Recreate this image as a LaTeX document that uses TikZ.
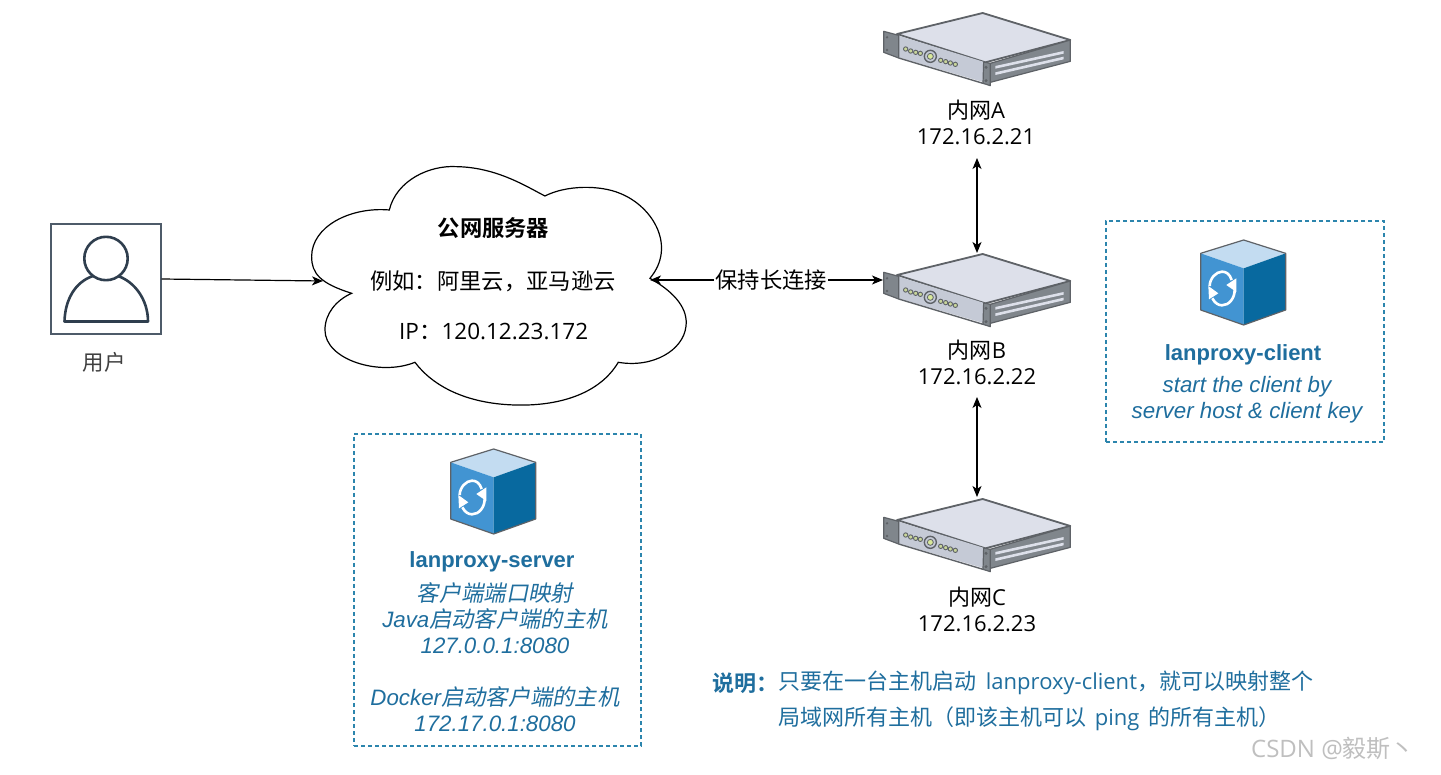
\documentclass[tikz,border=0pt]{standalone}
\usepackage{fontspec}
\usetikzlibrary{arrows.meta}
\setmainfont{Open Sans}
\newfontfamily\cj{Noto Sans CJK SC}
\newfontfamily\cjb{Noto Sans CJK SC Bold}
\newfontfamily\cji[FakeSlant=0.2]{Noto Sans CJK SC}
\newfontfamily\lib{Liberation Sans}
\definecolor{teal}{HTML}{1F6E9E}
\definecolor{dashc}{HTML}{2C85AD}
\definecolor{srvline}{HTML}{5E6267}
\definecolor{srvtop}{HTML}{DDE0EA}
\definecolor{srvfront}{HTML}{C5CAD6}
\definecolor{srvside}{HTML}{80868C}
\definecolor{srvled}{HTML}{C9D69A}
\definecolor{srvcore}{HTML}{D8E89A}
\definecolor{usr}{HTML}{2F3E4E}
\definecolor{cubetop}{HTML}{C3DCF1}
\definecolor{cubeleft}{HTML}{4294D2}
\definecolor{cuberight}{HTML}{08699F}
\tikzset{
  x=1pt,y=-1pt,
  lbl/.style={align=center,font=\fontsize{22}{26}\selectfont,text=black,inner sep=0pt},
  dashbox/.style={draw=dashc,line width=1.2pt,dash pattern=on 4pt off 3pt},
  conn/.style={draw=black,line width=1.2pt,-{Stealth[length=11pt,width=9pt,inset=3pt]}},
  biconn/.style={draw=black,line width=1.2pt,{Stealth[length=11pt,width=9pt,inset=3pt]}-{Stealth[length=11pt,width=9pt,inset=3pt]}},
  pics/server/.style={code={
    \begin{scope}[x=0.3333pt,y=-0.3333pt,shift={(-320,-145)}]
    \fill[srvtop,draw=srvline,line width=1.8pt,line join=round] (80,100)--(337,37)--(600,118)--(345,185)--cycle;
    \fill[srvside,draw=srvline,line width=1.2pt,line join=round] (360,188)--(600,118)--(600,182)--(360,245)--cycle;
    \fill[srvtop] (375,196)--(580,151)--(580,159)--(375,204)--cycle;
    \fill[srvtop] (375,215)--(580,168)--(580,176)--(375,223)--cycle;
    \fill[srvfront] (85,105)--(345,185)--(345,246)--(85,170)--cycle;
    \draw[srvline,line width=1.4pt] (85,172)--(338,248);
    \fill[srvside,draw=srvline,line width=1.2pt,line join=round] (40,92)--(85,104)--(85,172)--(40,155)--cycle;
    \fill[srvside,draw=srvline,line width=1.2pt,line join=round] (340,184)--(360,188)--(360,255)--(338,248)--cycle;
    \fill[srvline] (50,110) circle (4) (50,148) circle (4) (347,200) circle (5) (347,240) circle (5);
    \draw[srvline,line width=1.4pt,fill=srvfront] (180,167) circle (18);
    \draw[srvline,line width=0.8pt,fill=srvcore] (180,167) circle (9);
    \foreach \a/\b in {106/145,121/151,136/155,150/158,211/179,226/183,240/187,255/191}
      \draw[srvline,line width=0.9pt,fill=srvled] (\a,\b) circle (6.5);
    \end{scope}}},
  pics/cube/.style={code={
    \begin{scope}[x=0.3333pt,y=-0.3333pt,shift={(-190,-150)}]
    \fill[cubetop] (192,30)--(318,70)--(192,115)--(63,70)--cycle;
    \fill[cubeleft] (63,70)--(192,115)--(192,285)--(63,240)--cycle;
    \fill[cuberight] (192,115)--(318,70)--(318,240)--(192,285)--cycle;
    \draw[srvline,line width=1.2pt,line join=round] (192,30)--(318,70)--(318,240)--(192,285)--(63,240)--(63,70)--cycle;
    \draw[white,line width=2.6pt] (90,168) .. controls (90,145) and (110,125) .. (127,125) .. controls (140,125) and (150,132) .. (156,150);
    \fill[white] (170,186)--(140,165)--(170,145)--cycle;
    \draw[white,line width=2.6pt] (165,180) .. controls (165,205) and (148,226) .. (127,226) .. controls (115,226) and (105,218) .. (98,205);
    \fill[white] (86,168)--(116,190)--(88,208)--cycle;
    \end{scope}}}
}
\begin{document}
\begin{tikzpicture}
\useasboundingbox (0,0) rectangle (1441,775);
\fill[white] (0,0) rectangle (1441,775);

% cloud
\begin{scope}[x=0.3333pt,y=-0.3333pt,shift={(900,480)}]
\draw[black,line width=1.2pt,line join=miter,fill=white]
 (268,150) .. controls (290,60) and (390,15) .. (470,20)
 .. controls (590,22) and (680,80) .. (735,108)
 .. controls (800,75) and (900,75) .. (960,100)
 .. controls (1060,140) and (1130,260) .. (1050,355)
 .. controls (1130,400) and (1165,450) .. (1158,500)
 .. controls (1150,570) and (1060,625) .. (955,607)
 .. controls (900,700) and (780,740) .. (640,735)
 .. controls (500,730) and (400,680) .. (345,607)
 .. controls (240,650) and (75,600) .. (75,510)
 .. controls (75,460) and (110,420) .. (155,400)
 .. controls (60,370) and (35,340) .. (35,290)
 .. controls (35,200) and (150,140) .. (268,150) -- cycle;
\end{scope}
\coordinate (cloudL) at (323,281);
\coordinate (cloudR) at (650,280);
\node[lbl,font=\fontsize{22.3}{26}\selectfont] (t1) at (493.5,228.5) {\cjb 公网服务器};
\node[lbl,font=\fontsize{22.3}{26}\selectfont] (t2) at (493,281) {\cj 例如：阿里云，亚马逊云};
\node[lbl,anchor=west,font=\fontsize{22.5}{26}\selectfont] (t3) at (399,332) {IP{\cj ：}120.12.23.172};

% user
\node[draw=usr!85!white,line width=1.2pt,minimum width=110pt,minimum height=110pt,inner sep=0pt] (user) at (106,279) {};
\draw[usr,line width=2.6pt,line join=round] (106,258.5) circle (21.7);
\draw[usr,line width=2.6pt,line join=round] (93,276) .. controls (75,282) and (65,300) .. (64.5,321.5) -- (148,321.5) .. controls (148,300) and (135,282) .. (118,276);
\node[lbl,text=black!75,font=\fontsize{21.5}{24}\selectfont] (ulabel) at (104,362) {\cj 用户};

% servers
\pic at (977,49) {server};
\pic at (977,290) {server};
\pic at (977,535) {server};
\coordinate (aB) at (977,158);
\coordinate (bT) at (977,253);
\coordinate (bL) at (883,280);
\coordinate (bB) at (977,397);
\coordinate (cT) at (977,497);
\node[lbl] (la) at (976,122) {{\cj 内网}A\\172.16.2.21};
\node[lbl] (lb) at (977,362) {{\cj 内网}B\\172.16.2.22};
\node[lbl] (lc) at (977,609) {{\cj 内网}C\\172.16.2.23};

% connectors
\draw[conn] (user.east) -- (cloudL);
\draw[biconn] (cloudR) -- node[pos=0.52,lbl,fill=white,inner xsep=1pt,inner ysep=0pt,font=\fontsize{22.3}{26}\selectfont] (keep) {\cj 保持长连接} (bL);
\draw[biconn] (aB) -- (bT);
\draw[biconn] (bB) -- (cT);

% client box
\node[dashbox,minimum width=278pt,minimum height=221pt,inner sep=0pt] (clientbox) at (1245,331.5) {};
\pic at (1243,280) {cube};
\node[lbl,text=teal,font=\lib\bfseries\fontsize{22}{26}\selectfont] (cname) at (1243,354.5) {lanproxy-client};
\node[lbl,text=teal,font=\lib\itshape\fontsize{22.3}{26}\selectfont] (cdesc) at (1247,400) {start the client by\\server host \& client key};

% server box
\node[dashbox,minimum width=287pt,minimum height=312pt,inner sep=0pt] (serverbox) at (497.5,590) {};
\pic at (493,489) {cube};
\node[lbl,text=teal,font=\lib\bfseries\fontsize{22}{26}\selectfont] (sname) at (492,562) {lanproxy-server};
\node[lbl,text=teal,font=\lib\itshape\fontsize{22.3}{26}\selectfont] (sd1) at (495,618.5) {{\cji 客户端端口映射}\\Java{\cji 启动客户端的主机}\\127.0.0.1:8080};
\node[lbl,text=teal,font=\lib\itshape\fontsize{22.3}{26}\selectfont] (sd2) at (495,709) {Docker{\cji 启动客户端的主机}\\172.17.0.1:8080};

% note
\node[lbl,text=teal,anchor=west] (n0) at (712,683) {\cjb 说明：};
\node[lbl,text=teal,anchor=west] (n1) at (778,683) {{\cj 只要在一台主机启动}\hspace{4pt} lanproxy-client{\cj ，就可以映射整个}};
\node[lbl,text=teal,anchor=west] (n2) at (778,719) {{\cj 局域网所有主机（即该主机可以}\hspace{3pt} ping\hspace{3pt} {\cj 的所有主机）}};

% watermark
\node[lbl,text=black!25,font=\fontsize{24}{28}\selectfont] (wm) at (1333,748) {CSDN @{\cj 毅斯丶}};
\end{tikzpicture}
\end{document}
